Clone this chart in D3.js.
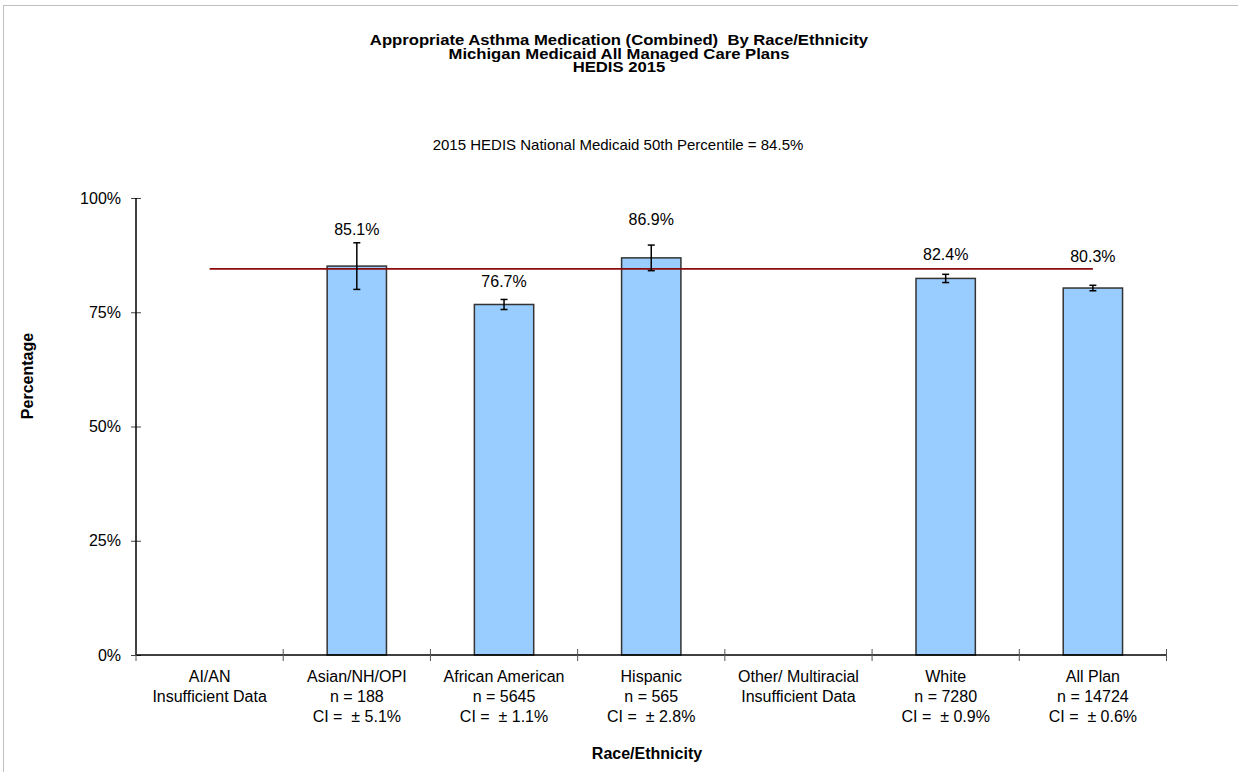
<!DOCTYPE html>
<html>
<head>
<meta charset="utf-8">
<script src="https://cdn.jsdelivr.net/npm/d3@7/dist/d3.min.js"></script>
<style>
  html, body { margin: 0; padding: 0; background: #fff; }
  svg { display: block; font-family: "Liberation Sans", Arial, sans-serif; }
  text { white-space: pre; }
</style>
</head>
<body>
<svg id="chart" width="1238" height="772"></svg>
<script>
// ---- data ----
const categories = ["AI/AN", "Asian/NH/OPI", "African American", "Hispanic", "Other/ Multiracial", "White", "All Plan"];
const catLine2 = ["Insufficient Data", "n = 188", "n = 5645", "n = 565", "Insufficient Data", "n = 7280", "n = 14724"];
const catLine3 = ["", "CI =  \u00B1 5.1%", "CI =  \u00B1 1.1%", "CI =  \u00B1 2.8%", "", "CI =  \u00B1 0.9%", "CI =  \u00B1 0.6%"];
const rates = [null, 85.1, 76.7, 86.9, null, 82.4, 80.3];
const ciHalf = [null, 5.1, 1.1, 2.8, null, 0.9, 0.6];
const benchmark = [84.5, 84.5, 84.5, 84.5, 84.5, 84.5, 84.5];
const labelLevel = [null, 93.2, 81.7, 95.3, null, 87.7, 87.2]; // data-label anchor (in %) as placed in the picture
const yTicks = [0, 25, 50, 75, 100];
const titleLines = ["Appropriate Asthma Medication (Combined)  By Race/Ethnicity", "Michigan Medicaid All Managed Care Plans", "HEDIS 2015"];
const subtitle = "2015 HEDIS National Medicaid 50th Percentile = 84.5%";

// ---- layout ----
const svg = d3.select("#chart");
const plot = { left: 136, right: 1166.5, top: 198, bottom: 655 };

const x = d3.scaleBand().domain(categories).range([plot.left, plot.right]).paddingInner(0).paddingOuter(0);
const y = d3.scaleLinear().domain([0, 100]).range([plot.bottom, plot.top]);
const barW = x.bandwidth() * 0.403;

// outer border
svg.append("rect").attr("x", 3.5).attr("y", 5.5).attr("width", 1400).attr("height", 1000)
  .attr("fill", "none").attr("stroke", "#c0c0c0").attr("stroke-width", 1);

// titles
const tg = svg.append("g").attr("transform", "translate(619,0) scale(1.15,1)");
titleLines.forEach((t, i) => {
  tg.append("text").attr("x", 0).attr("y", 45.5 + i * 13.5)
    .attr("text-anchor", "middle").attr("font-size", 14.5).attr("font-weight", "bold").attr("fill", "#000").text(t);
});
svg.append("text").attr("x", 618).attr("y", 150).attr("text-anchor", "middle")
  .attr("font-size", 15).attr("fill", "#000").text(subtitle);

// bars
const idx = d3.range(categories.length);
svg.append("g").selectAll("rect").data(idx.filter(i => rates[i] != null)).join("rect")
  .attr("x", i => x(categories[i]) + x.bandwidth() / 2 - barW / 2)
  .attr("y", i => y(rates[i]))
  .attr("width", barW)
  .attr("height", i => y(0) - y(rates[i]))
  .attr("fill", "#99ccff").attr("stroke", "#333").attr("stroke-width", 1.5);

// benchmark line
const line = d3.line().x((d, i) => x(categories[i]) + x.bandwidth() / 2).y(d => y(d));
svg.append("path").datum(benchmark).attr("d", line)
  .attr("fill", "none").attr("stroke", "#8b0a0a").attr("stroke-width", 1.6);

// error bars
const eg = svg.append("g").attr("stroke", "#000").attr("stroke-width", 1.5);
idx.filter(i => rates[i] != null).forEach(i => {
  const cx = x(categories[i]) + x.bandwidth() / 2;
  const y1 = y(rates[i] + ciHalf[i]), y2 = y(rates[i] - ciHalf[i]);
  eg.append("line").attr("x1", cx).attr("x2", cx).attr("y1", y1).attr("y2", y2);
  eg.append("line").attr("x1", cx - 3.5).attr("x2", cx + 3.5).attr("y1", y1).attr("y2", y1);
  eg.append("line").attr("x1", cx - 3.5).attr("x2", cx + 3.5).attr("y1", y2).attr("y2", y2);
});

// data labels
svg.append("g").selectAll("text").data(idx.filter(i => rates[i] != null)).join("text")
  .attr("x", i => x(categories[i]) + x.bandwidth() / 2)
  .attr("y", i => y(labelLevel[i]))
  .attr("dy", "0.36em")
  .attr("text-anchor", "middle").attr("font-size", 16).attr("fill", "#000")
  .text(i => rates[i].toFixed(1) + "%");

// y axis
const yAxis = d3.axisLeft(y).tickValues(yTicks).tickFormat(d => d + "%").tickSize(0).tickPadding(15);
const ya = svg.append("g").attr("transform", `translate(${plot.left},0)`).call(yAxis);
ya.select(".domain").remove();
ya.selectAll("text").attr("font-size", 16).attr("font-family", "Liberation Sans, Arial, sans-serif").attr("fill", "#000");
ya.selectAll(".tick").append("line").attr("x1", -5).attr("x2", 5).attr("stroke", "#444").attr("stroke-width", 1);
svg.append("line").attr("x1", plot.left).attr("x2", plot.left).attr("y1", plot.top).attr("y2", plot.bottom)
  .attr("stroke", "#000").attr("stroke-width", 1.5);

// x axis
svg.append("line").attr("x1", plot.left).attr("x2", plot.right).attr("y1", plot.bottom).attr("y2", plot.bottom)
  .attr("stroke", "#000").attr("stroke-width", 1.5);
const bounds = categories.map(c => x(c)).concat([plot.right]);
svg.append("g").selectAll("line").data(bounds).join("line")
  .attr("x1", d => d).attr("x2", d => d).attr("y1", plot.bottom - 6).attr("y2", plot.bottom + 6)
  .attr("stroke", "#555").attr("stroke-width", 1);

const xl = svg.append("g");
idx.forEach(i => {
  const cx = x(categories[i]) + x.bandwidth() / 2;
  [categories[i], catLine2[i], catLine3[i]].forEach((t, k) => {
    if (!t) return;
    xl.append("text").attr("x", cx).attr("y", 682 + k * 19.8).attr("text-anchor", "middle")
      .attr("font-size", 16).attr("fill", "#000").text(t);
  });
});

// axis titles
svg.append("text").attr("x", 647).attr("y", 759).attr("text-anchor", "middle")
  .attr("font-size", 16).attr("font-weight", "bold").text("Race/Ethnicity");
svg.append("text").attr("transform", "translate(33,376) rotate(-90)").attr("text-anchor", "middle")
  .attr("font-size", 16).attr("font-weight", "bold").text("Percentage");
</script>
</body>
</html>
